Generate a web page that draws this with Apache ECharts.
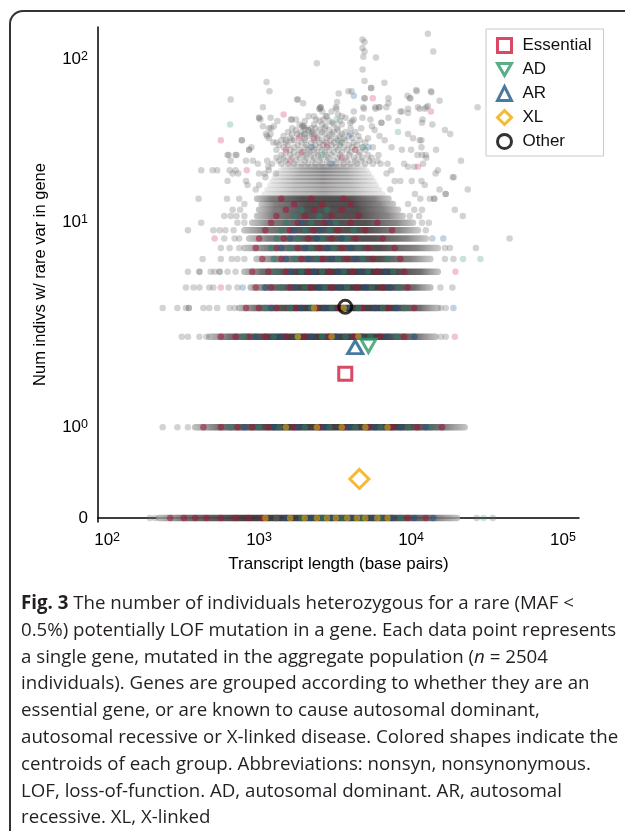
<!DOCTYPE html>
<html><head><meta charset="utf-8">
<script src="https://cdn.jsdelivr.net/npm/echarts@6/dist/echarts.min.js"></script>
<style>
html,body{margin:0;padding:0;background:#fff;}
#wrap{position:relative;width:625px;height:831px;overflow:hidden;background:#fff;}
#frame{position:absolute;left:9px;top:10px;width:700px;height:900px;border:2px solid #333;border-radius:14px;box-sizing:border-box;}
#c{position:absolute;left:0;top:0;width:625px;height:831px;}
#cap{position:absolute;left:21px;top:589px;font-family:'Open Sans',sans-serif;font-size:18.7px;line-height:26.8px;color:#231f20;white-space:nowrap;}
#cap b{font-weight:700;}
</style></head>
<body><div id="wrap"><div id="frame"></div><div id="c"></div>
<div id="cap"><b>Fig. 3</b> The number of individuals heterozygous for a rare (MAF &lt;<br>0.5%) potentially LOF mutation in a gene. Each data point represents<br>a single gene, mutated in the aggregate population (<i>n</i> = 2504<br>individuals). Genes are grouped according to whether they are an<br>essential gene, or are known to cause autosomal dominant,<br>autosomal recessive or X-linked disease. Colored shapes indicate the<br>centroids of each group. Abbreviations: nonsyn, nonsynonymous.<br>LOF, loss-of-function. AD, autosomal dominant. AR, autosomal<br>recessive. XL, X-linked</div>
</div>
<script>
// ---------- data ----------
const xTickExp = [2, 3, 4, 5];
const yTickCounts = [0, 1, 10, 100];
const yTickSup = ['', '0', '1', '2'];

// dense horizontal bands of genes at integer counts (transcript length range, bp)
const bandN     = [0, 1, 2, 3, 4, 5, 6, 7, 8, 9, 10, 11, 12, 13, 14, 15, 16, 17, 18, 19, 20, 21, 22];
const bandStart = [220, 380, 471, 740, 880, 800, 960, 800, 860, 800, 900, 970, 1000, 1040, 970, 1080, 1130, 1180, 1220, 1260, 1320, 1380, 1450];
const bandEnd   = [20000, 22500, 14500, 15000, 13400, 15000, 13400, 15000, 12500, 11100, 10300, 8800, 8200, 7600, 7100, 6500, 6200, 5900, 5700, 5500, 5300, 5100, 4900];

// individual "Other" genes [length bp, count]
const otherPts = [
[4790,133],[4940,128],[4790,118],[4940,112],[4850,104],[5870,103],[2400,95],[4800,87],[4940,74],[5460,67],[5460,67],[6670,72],[4940,58],[4940,58],[3870,64],[4060,64],[3340,62],[3260,55],[2500,50],[2500,50],[1800,57],[1950,54],[12900,144],[14000,112],[9470,60],[9900,58],[10900,64],[13500,64],[11400,50],[12600,51],[5850,50],[6150,51],[4900,50],[7100,54],[8700,48],[9550,47],[11900,43],[8200,42],[7100,44],[6380,41],[6380,41],[5400,43],[4790,44],[5530,39],[5760,37],[4200,43],[3700,44],[3980,41],[3230,50],[3310,46],[1640,43],[2120,45],[2650,43],[2740,39],[3030,41],[2200,38],[1980,39],
[1120,73],[1170,64],[650,57],[1780,57],[1060,51],[1000,44],[1000,44],[1020,43],[1190,44],[1320,42],[1620,43],[1750,43],[1160,38],[1200,38],[1110,35],[1190,35],[1130,34],[770,32],[770,32],[1780,35],[1240,31],[1300,31],[1500,32],[1640,32],
[630,26],[700,26],[860,28],[860,28],[890,29],[1060,39],[1250,39],[1160,33],
[820,24],[910,24],[980,23],[1130,24],[1220,23],[670,20],[730,20],[620,18],[820,18],[840,17],[1000,20],[1090,20],[1160,21],[1290,20],
[1930,39],[1930,39],[1980,35],[2120,37],[2220,35],[2370,43],[2540,51],[2540,51],[2750,45],[3200,51],
[4850,51],[5800,51],[6200,51],[6870,51],[7100,58],[8500,48],[9550,50],[9800,58],[10800,65],[11100,51],[12300,50],
[9550,35],[10300,33],[11400,32],[7440,29],[8700,28],[10000,28],[6200,34],[6700,32],[11800,26],[12500,26],[10500,22],[12000,23],[9000,23],[9550,22],[8500,18],[10100,18],[11700,18],[12300,17],[10600,15],[11500,14],
[13600,63],[15400,56],[27400,51],[12900,52],[11800,41],[13800,40],[16700,37],[18100,35],[11700,32],[11700,29],[14600,28],[21300,24],[11000,26],[12600,25],[14500,20],[15000,21],[18800,19],[19100,19],[23600,16],[15400,16],[19400,12],[21900,11],
[416,21],[494,21],[530,21],[400,14],[416,10],[340,9],[425,6],[340,5],[615,14],[740,14],[620,26],[710,26],[650,24],[640,21],[700,21],
[191,0],[207,0],[27000,0],[34500,0],
[232,1],[290,1],[340,1],
[310,2],[340,2],[405,2],[450,2],[15700,2],[16900,2],
[232,3],[290,3],[330,3],[345,3],[345,3],[430,3],[470,3],[530,3],[640,3],[690,3],[15700,3],[16900,3],
[330,4],[370,4],[405,4],[470,4],[500,4],[630,4],[720,4],[15600,4],[18700,4],
[405,5],[405,5],[480,5],[510,5],[550,5],[550,5],[620,5],[700,5],
[560,6],[660,6],[720,6],[800,6],[16700,6],[19000,6],
[560,7],[640,7],[740,7],[16700,7],[18000,7],[26700,7],
[590,8],[690,8],[740,8],[44500,8],
[500,9],[550,9],[600,9],[680,9],[12500,9],
[720,10],[800,10],[11800,10],[13100,10],
[590,11],[650,11],[710,11],[800,11],[9800,11],[11300,11],
[670,12],[750,12],[10500,12],[11800,12],
[800,13],[9550,13],
[13300,14],[14200,14],[14200,14],[16900,15],[16900,15],
[950,16],[1000,17],[7300,16],[7800,18],[6900,20],[7400,21],[1100,19],[1150,22]
];

// dense cloud of "Other" genes: [count, [lengths bp]]
const cloudRows = [
[23,[1400,1560,1700,1900,2100,2350,2600,2900,3200,3600,4000,4400,5000,5600,6300,7000]],
[24,[1350,1500,1750,2000,2250,2500,2800,3100,3450,3800,4300,4700,5300,6000]],
[25,[1300,1450,1650,1850,2050,2300,2550,2850,3300,3700,4200,4800,5500]],
[26,[1400,1600,1800,2000,2200,2450,2750,3000,3400,3900,4500,5200,6100]],
[27,[1500,1700,1950,2150,2400,2700,3100,3500,4000,4600]],
[28,[1300,1600,1850,2100,2300,2600,2900,3300,3800,4300,5000]],
[29,[1450,1700,2000,2250,2500,2800,3200,3600,4100,4800,5600]],
[30,[1350,1550,1800,2050,2350,2650,3000,3400,3900,4400]],
[31,[1500,1900,2200,2500,2750,3100,3500,4200,5000]],
[32,[1400,1700,2000,2300,2600,2950,3300,3700,4600]],
[33,[1600,2000,2400,2800,3200,3600,4100,5200]],
[34,[1450,1850,2150,2450,2900,3400,3900,4500]],
[35,[1650,2000,2300,2700,3000,3500]],
[36,[1550,1900,2250,2600,3100,3700,4300]],
[37,[1750,2100,2500,2900,3300]],
[38,[1650,2000,2350,2700,3250,4000,4700]],
[40,[1850,2300,2600,3100,3500]],
[42,[2000,2500,2900,3400,4100]],
[45,[2300,2800,3500]],
[48,[2600,3000,4200]]
];

// isolated coloured genes [length bp, count]
const essentialPts = [[1450,46],[560,32],[5600,58],[13500,48],[510,8],[1830,33],[830,21],[11100,22],[1500,28],[19400,2],[19600,5],[560,4],[1900,27],[2800,30],[3500,25],[2300,33],[4300,28],[1600,24]];
const adPts = [[645,40],[8200,36],[3230,43],[109000,42],[22000,6],[28600,6],[30000,0],[2600,26],[3400,31],[4800,29]];
const arPts = [[4200,60],[5230,29],[16300,8],[13800,8],[19000,3],[780,4],[2200,29],[4000,35],[3000,23]];

// coloured genes inside the dense bands: [count, [lengths bp]]
const speckEssential = [
[0,[260,320,380,450,560,700,850,1050,1300,9500,12500]],
[1,[430,560,720,900,1150,1700,2500,3600,5200,7500,11000,16000]],
[2,[560,700,850,1100,1500,2000,2900,4200,6200,9000]],
[3,[820,1000,1300,1750,2400,3300,4800,7000,10500]],
[4,[950,1200,1600,2200,3000,4400,6500,9500]],
[5,[900,1150,1500,2100,2900,4100,6000,9000]],
[6,[1050,1400,1900,2600,3800,5600,8500]],
[7,[950,1300,1800,2500,3500,5200,7800]],
[8,[1000,1450,2100,3000,4300,6500]],
[9,[1100,1600,2300,3300,5000,7500]],
[10,[1200,1800,2700,4000,6000]],
[11,[1300,2000,3000,4500]],
[12,[1500,2300,3500]],
[13,[1700,2600,4000]],
[14,[1400,2200,3600]]
];
const speckAD = [
[0,[1300,1900,2600,3500,4700,6300,8500]],
[1,[650,1000,1350,2000,2900,4300,6300,9500,13500]],
[2,[800,1250,1800,2600,3700,5400,8000]],
[3,[1100,1600,2200,3000,4500,6500,9000]],
[4,[1400,2000,2700,3800,5500,8200]],
[5,[1300,1900,2600,3600,5200,7600]],
[6,[1250,1700,2400,3300,4800,7000]],
[7,[1200,1600,2200,3100,4500]],
[8,[1300,1800,2600,3800]],
[9,[1400,2000,2900,4200]],
[10,[1500,2200,3200]],
[11,[1700,2500]],
[12,[1900,2800]]
];
const speckAR = [
[0,[1500,2200,3000,4000,5600,7500,10500,14000]],
[1,[800,1250,1800,2700,3900,5800,8500,12500]],
[2,[950,1400,2200,3200,4700,7000,10500]],
[3,[1200,1900,2700,3900,5800,8000]],
[4,[1100,1700,2500,3400,5000,7200]],
[5,[1600,2300,3300,4700,6800]],
[6,[1500,2100,3000,4300]],
[7,[1400,2000,2800,4000]],
[8,[1600,2400,3500]],
[9,[1700,2500]],
[10,[1900,2900]]
];
const speckXL = [
[0,[1100,1600,2000,2400,2800,3200,3800,4400,5000,6000,7000]],
[1,[1500,2400,3500,5000,7000]],
[2,[1800,3000,4500]],
[3,[2300,3600]]
];

// group centroids
const centroidNames = ['Essential', 'AD', 'AR', 'XL', 'Other'];
const centroidLen   = [3690, 5240, 4290, 4570, 3690];
const centroidCount = [1.59, 1.90, 1.885, 0.43, 3.05];

// ---------- scales (symmetric log, linear below 2) ----------
const LIN = 1 / (1 - 0.1);
const ty = n => n <= 2 ? n * LIN : 2 * (LIN + Math.log10(n / 2));
const tx = b => Math.log10(b);
const P = p => [tx(p[0]), ty(p[1])];
const expand = rows => rows.flatMap(r => r[1].map(b => [tx(b), ty(r[0])]));

const FONT = "'Liberation Sans', Arial, sans-serif";
const G = echarts.graphic.LinearGradient;

function bandColor(n) {
  if (n <= 5) return new G(0,0,1,0,[
    {offset:0,color:'rgba(175,175,175,0.75)'},{offset:0.1,color:'rgba(100,96,98,0.9)'},
    {offset:0.3,color:'rgba(62,55,58,0.96)'},{offset:0.75,color:'rgba(62,55,58,0.96)'},
    {offset:0.9,color:'rgba(100,96,98,0.9)'},{offset:1,color:'rgba(180,180,180,0.75)'}]);
  if (n <= 14) return new G(0,0,1,0,[
    {offset:0,color:'rgba(180,180,180,0.7)'},{offset:0.12,color:'rgba(110,106,108,0.85)'},
    {offset:0.35,color:'rgba(70,64,67,0.92)'},{offset:0.7,color:'rgba(70,64,67,0.92)'},
    {offset:0.88,color:'rgba(115,112,114,0.85)'},{offset:1,color:'rgba(185,185,185,0.7)'}]);
  return new G(0,0,1,0,[
    {offset:0,color:'rgba(190,190,190,0.3)'},{offset:0.25,color:'rgba(120,118,119,0.42)'},
    {offset:0.5,color:'rgba(95,92,94,0.5)'},{offset:0.75,color:'rgba(120,118,119,0.42)'},
    {offset:1,color:'rgba(190,190,190,0.3)'}]);
}

const series = [];
bandN.forEach((n, i) => {
  series.push({
    type: 'line', silent: true, symbol: 'none', z: 1,
    data: [[tx(bandStart[i]), ty(n)], [tx(bandEnd[i]), ty(n)]],
    lineStyle: { width: n > 14 ? 5.5 : 6.5, cap: 'round', color: bandColor(n) }
  });
});
const dot = (data, color, z) => ({
  type: 'scatter', silent: true, symbol: 'circle', symbolSize: 6.5, z: z || 2,
  data: data, itemStyle: { color: color }
});
series.push(dot(otherPts.map(P).concat(expand(cloudRows)), 'rgba(105,105,105,0.36)'));
series.push(dot(essentialPts.map(P), 'rgba(205,30,65,0.32)'));
series.push(dot(adPts.map(P), 'rgba(40,150,110,0.32)'));
series.push(dot(arPts.map(P), 'rgba(40,100,160,0.36)'));
series.push(dot(expand(speckEssential), 'rgba(160,25,55,0.7)', 3));
series.push(dot(expand(speckAD), 'rgba(40,130,110,0.65)', 3));
series.push(dot(expand(speckAR), 'rgba(30,85,135,0.65)', 3));
series.push(dot(expand(speckXL), 'rgba(215,170,20,0.75)', 3));

const centroidStyle = [
  { symbol: 'rect', size: 13, color: '#d01c3c' },
  { symbol: 'path://M0,0L20,0L10,17.3Z', size: [15, 13], color: '#2f9a68' },
  { symbol: 'triangle', size: [15, 13], color: '#1a5a86' },
  { symbol: 'path://M10,0L20,10L10,20L0,10Z', size: 19, color: '#f5a800' },
  { symbol: 'circle', size: 13, color: '#000000' }
];
centroidNames.forEach((name, i) => {
  const s = centroidStyle[i];
  series.push({
    name: name, type: 'scatter', z: 5, symbol: s.symbol, symbolSize: s.size,
    data: [[tx(centroidLen[i]), ty(centroidCount[i])]],
    itemStyle: { color: 'rgba(255,255,255,0)', borderColor: s.color, borderWidth: 3 }
  });
});

const chart = echarts.init(document.getElementById('c'), null, { renderer: 'canvas' });
chart.setOption({
  animation: false,
  backgroundColor: 'transparent',
  grid: { left: 98, right: 46, top: 27, bottom: 309 },
  xAxis: {
    type: 'value', min: 1.94, max: 5.105,
    splitLine: { show: false }, axisTick: { show: false },
    axisLine: { show: true, lineStyle: { color: '#000', width: 1.5 } },
    axisLabel: {
      customValues: xTickExp, margin: 9, color: '#000', fontSize: 17, fontFamily: FONT, lineHeight: 19,
      formatter: v => '10{s|' + Math.round(v) + '}',
      rich: { s: { fontSize: 12.5, lineHeight: 11, verticalAlign: 'top', fontFamily: FONT, color: '#000' } }
    },
    name: 'Transcript length (base pairs)', nameLocation: 'middle', nameGap: 34,
    nameTextStyle: { fontSize: 17, color: '#000', fontFamily: FONT }
  },
  yAxis: {
    type: 'value', min: -0.05, max: 6.02,
    splitLine: { show: false }, axisTick: { show: false },
    axisLine: { show: true, lineStyle: { color: '#000', width: 1.5 } },
    axisLabel: {
      customValues: yTickCounts.map(ty), margin: 10, color: '#000', fontSize: 17, fontFamily: FONT, lineHeight: 19,
      formatter: v => {
        let k = 0;
        yTickCounts.forEach((c, i) => { if (Math.abs(ty(c) - v) < 1e-6) k = i; });
        return k === 0 ? '0' : '10{s|' + yTickSup[k] + '}';
      },
      rich: { s: { fontSize: 12.5, lineHeight: 11, verticalAlign: 'top', fontFamily: FONT, color: '#000' } }
    },
    name: 'Num indivs w/ rare var in gene', nameLocation: 'middle', nameGap: 49,
    nameTextStyle: { fontSize: 16.5, color: '#000', fontFamily: FONT }
  },
  legend: {
    data: centroidNames, orient: 'vertical', left: 486, top: 29,
    padding: [8, 12, 6, 10], itemWidth: 14, itemHeight: 14, itemGap: 7,
    borderColor: '#c8c8c8', borderWidth: 1, backgroundColor: '#fff', selectedMode: false,
    itemStyle: { borderWidth: 3 },
    textStyle: { fontSize: 17, fontFamily: FONT, color: '#111', padding: [0, 0, 0, 6] }
  },
  series: series
});
</script></body></html>
